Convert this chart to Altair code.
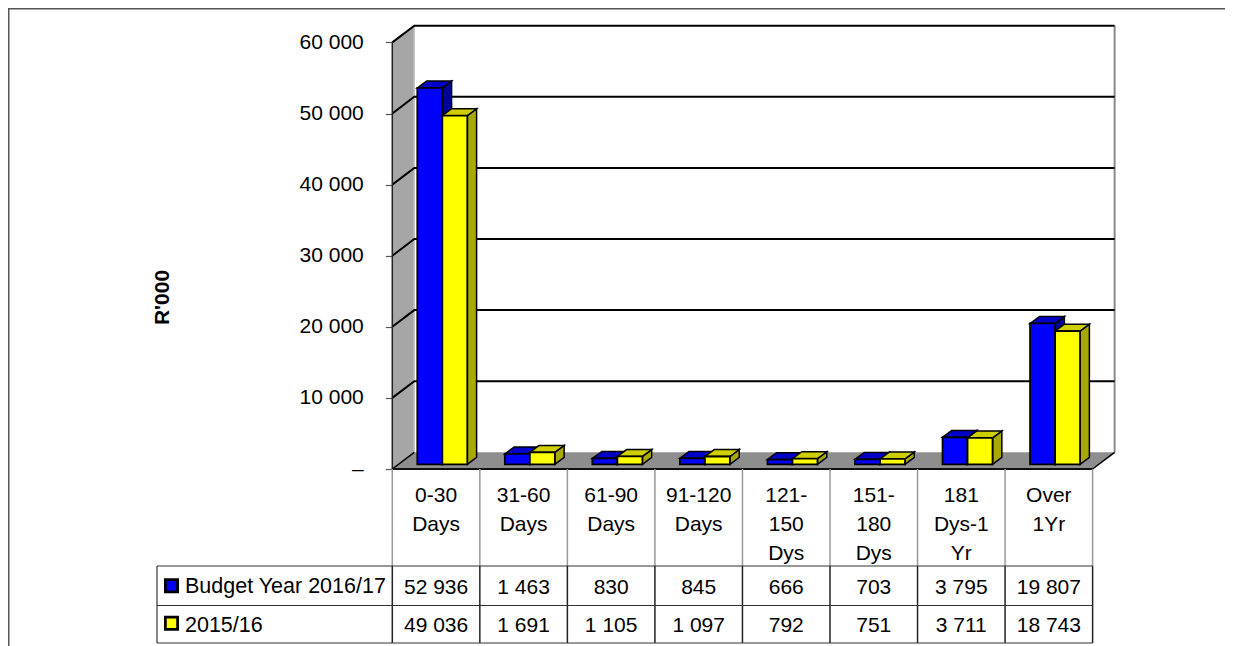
import altair as alt
import pandas as pd

categories = ["0-30\nDays", "31-60\nDays", "61-90\nDays", "91-120\nDays",
              "121-\n150\nDys", "151-\n180\nDys", "181\nDys-1\nYr", "Over\n1Yr"]
budget = [52936, 1463, 830, 845, 666, 703, 3795, 19807]
prior = [49036, 1691, 1105, 1097, 792, 751, 3711, 18743]
series_names = ["Budget Year 2016/17", "2015/16"]
tick_values = [0, 10000, 20000, 30000, 40000, 50000, 60000]
grid_values = [10000, 20000, 30000, 40000, 50000, 60000]

W, H = 1217, 638
CAT_PX = 87.54
PX_PER_V = 0.00711
X0 = 384.3   # plot px of the first table column
Y0 = 461.0   # plot px of value 0
FONT = "Liberation Sans"
FS = 21

x_scale = alt.Scale(domain=[-X0 / CAT_PX, (W - X0) / CAT_PX], nice=False, zero=False)
y_scale = alt.Scale(domain=[(Y0 - H) / PX_PER_V, Y0 / PX_PER_V], nice=False, zero=False)

y_axis = alt.Axis(
    values=tick_values, grid=False, domain=False, offset=-X0, tickSize=7, tickColor="#555555",
    tickWidth=1.2, labelPadding=22, labelFont=FONT, labelFontSize=FS, labelColor="#000000",
    labelOverlap=False, labelFlush=False, title=None,
    labelExpr="datum.value == 0 ? '\u2013\u00a0\u00a0' : replace(format(datum.value, ','), ',', ' ')")

DX = 22 / CAT_PX          # chart depth
DV = 16.7 / PX_PER_V
BAR_START = 25 / CAT_PX
BAR_W = 25 / CAT_PX
BAR_DX = 9.3 / CAT_PX     # bar depth
BAR_DV = 6.9 / PX_PER_V
BASE = 4.7 / PX_PER_V
N = len(categories)

X = lambda f="x": alt.X(f"{f}:Q", scale=x_scale, axis=None)
Y = lambda f="y": alt.Y(f"{f}:Q", scale=y_scale, axis=y_axis)


def vband(rows, color, stroke=None, sw=0):
    """Parallelogram with vertical sides: rows have x, y, y2, id."""
    kw = dict(stroke=stroke, strokeWidth=sw) if stroke else {}
    return alt.Chart(pd.DataFrame(rows)).mark_area(color=color, opacity=1, **kw).encode(
        x=X(), y=Y(), y2="y2:Q", detail="id:N")


def hband(rows, color, stroke=None, sw=0):
    """Parallelogram with horizontal sides: rows have y, x, x2, id."""
    kw = dict(stroke=stroke, strokeWidth=sw) if stroke else {}
    return alt.Chart(pd.DataFrame(rows)).mark_area(color=color, opacity=1, orient="horizontal", **kw).encode(
        y=Y(), x=X(), x2="x2:Q", detail="id:N")


layers = []

# side wall and floor
layers.append(vband([
    dict(id=0, x=0, y=0, y2=60000),
    dict(id=0, x=DX, y=DV, y2=60000 + DV)], "#A6A6A6"))
layers.append(hband([
    dict(id=0, y=0, x=0, x2=N),
    dict(id=0, y=DV, x=DX, x2=N + DX)], "#8E8E8E"))

# back wall edges
layers.append(alt.Chart(pd.DataFrame([dict(x=DX, y=DV, y2=60000 + DV)])).mark_rule(
    color="#C8C8C8", strokeWidth=1.5).encode(x=X(), y=Y(), y2="y2:Q"))
layers.append(alt.Chart(pd.DataFrame([dict(x=N + DX, y=DV, y2=60000 + DV)])).mark_rule(
    color="#8A8A8A", strokeWidth=2).encode(x=X(), y=Y(), y2="y2:Q"))

# grid lines, running along the side wall and the back wall
grid_rows = []
for v in grid_values:
    grid_rows += [dict(v=v, o=0, x=0, y=v), dict(v=v, o=1, x=DX, y=v + DV), dict(v=v, o=2, x=N + DX, y=v + DV)]
layers.append(alt.Chart(pd.DataFrame(grid_rows)).mark_line(color="#000000", strokeWidth=2).encode(
    x=X(), y=Y(), detail="v:N", order="o:Q"))
edge_rows = [dict(v=0, o=0, x=0, y=0), dict(v=0, o=1, x=DX, y=DV),
             dict(v=1, o=0, x=N, y=0), dict(v=1, o=1, x=N + DX, y=DV)]
layers.append(alt.Chart(pd.DataFrame(edge_rows)).mark_line(color="#000000", strokeWidth=1.5).encode(
    x=X(), y=Y(), detail="v:N", order="o:Q"))
layers.append(alt.Chart(pd.DataFrame([dict(x=0, y=0, y2=60000)])).mark_rule(
    color="#222222", strokeWidth=1.5).encode(x=X(), y=Y(), y2="y2:Q"))
layers.append(alt.Chart(pd.DataFrame([dict(x=0, x2=N, y=0)])).mark_rule(
    color="#111111", strokeWidth=1.8).encode(x=X(), x2="x2:Q", y=Y()))

# bars
palette = [("#0000FF", "#0000C8", "#00009A"), ("#FFFF00", "#CFCF00", "#A8A800")]
for k, (vals, (front, top, side)) in enumerate(zip([budget, prior], palette)):
    side_rows, top_rows, front_rows = [], [], []
    for i, v in enumerate(vals):
        l = i + BAR_START + k * BAR_W
        r = l + BAR_W
        side_rows += [dict(id=i, x=r, y=BASE, y2=BASE + v),
                      dict(id=i, x=r + BAR_DX, y=BASE + BAR_DV, y2=BASE + v + BAR_DV)]
        top_rows += [dict(id=i, y=BASE + v, x=l, x2=r),
                     dict(id=i, y=BASE + v + BAR_DV, x=l + BAR_DX, x2=r + BAR_DX)]
        front_rows.append(dict(x=l, x2=r, y=BASE, y2=BASE + v))
    layers.append(vband(side_rows, side, "#000000", 1.5))
    layers.append(hband(top_rows, top, "#000000", 1.5))
    layers.append(alt.Chart(pd.DataFrame(front_rows)).mark_rect(
        color=front, stroke="#000000", strokeWidth=1.8, opacity=1).encode(
        x=X(), x2="x2:Q", y=Y(), y2="y2:Q"))

# table rules (row positions in page pixels minus the margin)
ROW_TOP, ROW_MID, ROW_BOT = 558, 597.5, 635
LEFT = 149
cols = pd.DataFrame({"x": list(range(N + 1))})
layers.append(alt.Chart(cols).mark_rule(color="#999999", strokeWidth=1.5).encode(
    x=X(), y=alt.value(Y0), y2=alt.value(ROW_TOP)))
layers.append(alt.Chart(cols).mark_rule(color="#222222", strokeWidth=1.5).encode(
    x=X(), y=alt.value(ROW_TOP), y2=alt.value(ROW_BOT)))
one = pd.DataFrame({"a": [0]})
for p in [ROW_TOP, ROW_MID, ROW_BOT]:
    layers.append(alt.Chart(one).mark_rule(color="#333333", strokeWidth=1.2).encode(
        x=alt.value(LEFT), x2=alt.value(X0 + N * CAT_PX), y=alt.value(p)))
layers.append(alt.Chart(one).mark_rule(color="#333333", strokeWidth=1.2).encode(
    x=alt.value(LEFT), y=alt.value(ROW_TOP), y2=alt.value(ROW_BOT)))

# outer frame
layers.append(alt.Chart(one).mark_rule(color="#555555", strokeWidth=1.5).encode(
    x=alt.value(0.75), y=alt.value(0), y2=alt.value(H)))
layers.append(alt.Chart(one).mark_rule(color="#555555", strokeWidth=1.5).encode(
    x=alt.value(0), x2=alt.value(W), y=alt.value(0.75)))

# table text
fmt = lambda v: f"{v:,}".replace(",", " ")
head = pd.DataFrame({"x": [i + 0.5 for i in range(N)], "t": categories})
layers.append(alt.Chart(head).mark_text(
    font=FONT, fontSize=FS, lineBreak="\n", lineHeight=29, align="center", baseline="alphabetic",
    color="#000000").encode(x=X(), y=alt.value(494), text="t:N"))
for vals, base_y in zip([budget, prior], [586, 624]):
    d = pd.DataFrame({"x": [i + 0.5 for i in range(N)], "t": [fmt(v) for v in vals]})
    layers.append(alt.Chart(d).mark_text(
        font=FONT, fontSize=FS, align="center", baseline="alphabetic", color="#000000").encode(
        x=X(), y=alt.value(base_y), text="t:N"))

for name, color, sq_y, txt_y in zip(series_names, ["#0000FF", "#FFFF00"], [577.7, 615.3], [585, 623.5]):
    d = pd.DataFrame({"t": [name]})
    layers.append(alt.Chart(d).mark_point(
        shape="square", filled=True, fill=color, stroke="#000000", strokeWidth=2.8, opacity=1, size=150).encode(
        x=alt.value(163.5), y=alt.value(sq_y)))
    layers.append(alt.Chart(d).mark_text(
        font=FONT, fontSize=21.5, align="left", baseline="alphabetic", color="#000000").encode(
        x=alt.value(177), y=alt.value(txt_y), text="t:N"))

# axis title
layers.append(alt.Chart(pd.DataFrame({"t": ["R'000"]})).mark_text(
    font=FONT, fontSize=FS, fontWeight="bold", angle=270, align="center", baseline="middle",
    color="#000000").encode(x=alt.value(155), y=alt.value(289.5), text="t:N"))

chart = alt.layer(*layers).properties(
    width=W, height=H, padding=0, autosize=alt.AutoSizeParams(type="none"),
).configure_view(stroke=None).configure(background="#FFFFFF")

chart.save("out.html", embed_options={"renderer": "svg", "actions": False})
